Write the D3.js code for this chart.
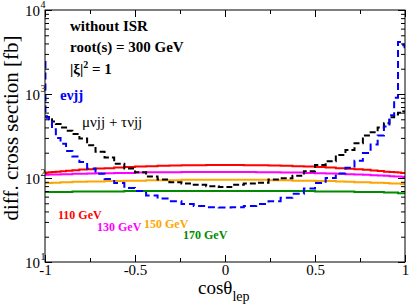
<!DOCTYPE html>
<html lang="en">
<head>
<meta charset="UTF-8">
<title>diff. cross section vs cos(theta_lep)</title>
<script src="https://d3js.org/d3.v7.min.js"></script>
<style>
  body { margin: 0; background: #fff; }
  svg { display: block; font-family: "Liberation Serif", "Times New Roman", serif; }
</style>
</head>
<body>
<svg width="409" height="305"></svg>
<script>
// histogram bins are 4 degrees wide in theta, plotted against cos(theta)
var thetaStepDeg = 4;

// 45 bins each, ordered from cos = -1 to cos = +1
var evjj = [2400, 600, 520, 480, 380, 300, 255, 210, 180, 155, 130, 112, 97, 87, 76,
            70, 62, 57, 53, 49, 46.5, 45, 44.5, 45, 46.5, 49, 53, 58, 65, 75,
            87, 100, 113, 132, 160, 198, 250, 320, 410, 560, 900, 4170, 4000, 3800, 3600];
var muTauVjj = [540, 540, 532, 500, 470, 440, 400, 365, 335, 295, 245, 205, 175, 148, 130,
                117, 104, 96, 89, 86, 83, 80, 78, 83, 86, 88, 96, 99, 106, 120,
                143, 158, 188, 215, 260, 320, 350, 400, 450, 530, 570, 600, 610, 620, 620];
var m110 = [116, 115, 116, 117, 118, 119, 120, 122, 124, 126, 127, 130, 131, 133, 135,
            137, 138, 140, 141, 142, 142, 143, 143, 143, 142, 142, 141, 140, 138, 137,
            135, 133, 131, 129, 127, 125, 123, 121, 119, 118, 117, 116, 115, 115, 115];
var m130 = [109, 109, 109, 110, 110, 110, 111, 111, 112, 112, 113, 114, 114, 115, 115,
            116, 117, 117, 117, 118, 118, 118, 118, 118, 118, 117, 117, 116, 116, 115,
            114, 113, 112, 111, 110, 109, 108, 107, 106, 105, 104.5, 104, 103.5, 103, 103];
var m150 = [87, 87, 87, 87, 88, 88, 89, 89, 90, 90, 91, 91, 92, 92, 93,
            93, 94, 94, 94, 95, 95, 95, 95, 95, 95, 95, 94, 94, 93, 93,
            92, 92, 91, 90, 89, 89, 88, 88, 87, 86, 86, 86, 85, 85, 85];
var m170 = [68, 68, 68, 68, 68, 68, 68, 68, 69, 69, 69, 69, 69, 69, 70,
            70, 70, 70, 70, 70, 70, 70, 70, 70, 70, 70, 70, 70, 70, 70,
            69, 69, 69, 69, 68, 68, 68, 68, 67, 67, 67, 66, 66, 66, 66];

var xTickValues = [-1, -0.5, 0, 0.5, 1];
var xTickLabels = ["-1", "-0.5", "0", "0.5", "1"];
var xMinorTicks = [-0.75, -0.25, 0.25, 0.75];
var yTickValues = [10, 100, 1000, 10000];
var yTickExponents = ["1", "2", "3", "4"];

var svg = d3.select("svg"),
    margin = {top: 10, right: 4, bottom: 43, left: 45},
    width = +svg.attr("width") - margin.left - margin.right,
    height = +svg.attr("height") - margin.top - margin.bottom,
    g = svg.append("g").attr("transform", "translate(" + margin.left + "," + margin.top + ")");

var x = d3.scaleLinear().domain([-1, 1]).range([0, width]);
var y = d3.scaleLog().domain([10, 10000]).range([height, 0]);

// bin edges in cos(theta), ascending
var edges = d3.range(180, -1, -thetaStepDeg).map(function(t) {
  return Math.cos(t * Math.PI / 180);
});
edges[0] = -1; edges[edges.length - 1] = 1;

function stepPoints(vals) {
  var pts = vals.map(function(v, i) { return {c: edges[i], v: v}; });
  pts.push({c: edges[vals.length], v: vals[vals.length - 1]});
  return pts;
}

var line = d3.line()
    .x(function(d) { return x(d.c); })
    .y(function(d) { return y(d.v); })
    .curve(d3.curveStepAfter);

svg.append("defs").append("clipPath").attr("id", "plotclip")
  .append("rect").attr("width", width).attr("height", height);

var series = [
  {vals: m170, color: "#008b00", dash: null},
  {vals: m150, color: "#ffa500", dash: null},
  {vals: m130, color: "#ff00ff", dash: null},
  {vals: m110, color: "#ff0000", dash: null},
  {vals: muTauVjj, color: "#000000", dash: "6,3"},
  {vals: evjj, color: "#0000ff", dash: "7,4"}
];

var plot = g.append("g").attr("clip-path", "url(#plotclip)");
series.forEach(function(s) {
  plot.append("path")
      .datum(stepPoints(s.vals))
      .attr("fill", "none")
      .attr("stroke", s.color)
      .attr("stroke-width", 2)
      .attr("stroke-dasharray", s.dash)
      .attr("d", line);
});

// axes: ticks point inward on all four sides
function styleAxis(sel) {
  sel.select(".domain").remove();
  sel.selectAll("line").attr("stroke", "#000");
  sel.selectAll("text").attr("font-family", "Liberation Serif, Times New Roman, serif")
     .attr("font-size", 15).attr("fill", "#000");
}

g.append("g")
    .attr("transform", "translate(0," + height + ")")
    .call(d3.axisBottom(x).tickValues(xTickValues).tickSize(-7).tickPadding(2)
      .tickFormat(function(d, i) { return xTickLabels[i]; }))
    .call(styleAxis);
g.append("g")
    .attr("transform", "translate(0," + height + ")")
    .call(d3.axisBottom(x).tickValues(xMinorTicks).tickSize(-4).tickFormat(""))
    .call(styleAxis);
g.append("g")
    .call(d3.axisTop(x).tickValues(xTickValues).tickSize(-7).tickFormat(""))
    .call(styleAxis);
g.append("g")
    .call(d3.axisTop(x).tickValues(xMinorTicks).tickSize(-4).tickFormat(""))
    .call(styleAxis);

var yMinor = [];
[10, 100, 1000].forEach(function(d) {
  for (var k = 2; k <= 9; k++) yMinor.push(d * k);
});

g.append("g")
    .call(d3.axisLeft(y).tickValues(yTickValues).tickSize(-7).tickFormat(""))
    .call(styleAxis);
g.append("g")
    .call(d3.axisLeft(y).tickValues(yMinor).tickSize(-4).tickFormat(""))
    .call(styleAxis);
g.append("g")
    .attr("transform", "translate(" + width + ",0)")
    .call(d3.axisRight(y).tickValues(yTickValues).tickSize(-7).tickFormat(""))
    .call(styleAxis);
g.append("g")
    .attr("transform", "translate(" + width + ",0)")
    .call(d3.axisRight(y).tickValues(yMinor).tickSize(-4).tickFormat(""))
    .call(styleAxis);

// y tick labels as 10^n
yTickValues.forEach(function(d, i) {
  g.append("text")
      .attr("x", -5).attr("y", y(d) + 6)
      .attr("text-anchor", "end")
      .attr("font-size", 15)
      .text("10");
  g.append("text")
      .attr("x", -4.5).attr("y", y(d) - 2)
      .attr("font-size", 10)
      .text(yTickExponents[i]);
});

// frame
g.append("rect")
    .attr("width", width).attr("height", height)
    .attr("fill", "none").attr("stroke", "#000").attr("stroke-width", 1);

// axis titles
svg.append("text")
    .attr("transform", "translate(18," + (margin.top + 118) + ") rotate(-90)")
    .attr("text-anchor", "middle")
    .attr("font-size", 21)
    .text("diff. cross section [fb]");

var xt = svg.append("text")
    .attr("x", 198).attr("y", 294)
    .attr("font-size", 19);
xt.append("tspan").text("cos\u03b8");
xt.append("tspan").attr("font-size", 14).attr("dy", 7).text("lep");

// annotations
var notes = g.append("g").attr("font-weight", "bold").attr("font-size", 15);
notes.append("text").attr("x", 25).attr("y", 21).text("without ISR");
notes.append("text").attr("x", 25).attr("y", 42).text("root(s) = 300 GeV");
var xi = notes.append("text").attr("x", 25).attr("y", 64);
xi.append("tspan").text("|\u03be|");
xi.append("tspan").attr("font-size", 10).attr("dy", -6).text("2");
xi.append("tspan").attr("dy", 6).text(" = 1");

g.append("text").attr("x", 15).attr("y", 90)
    .attr("font-weight", "bold").attr("font-size", 15).attr("fill", "#0000ff")
    .text("e\u03bdjj");
g.append("text").attr("x", 37).attr("y", 117)
    .attr("font-size", 15).attr("fill", "#000")
    .text("\u03bc\u03bdjj + \u03c4\u03bdjj");

var massLabels = [
  {t: "110 GeV", color: "#ff0000", x: 13, y: 209},
  {t: "130 GeV", color: "#ff00ff", x: 52, y: 221},
  {t: "150 GeV", color: "#ffa500", x: 99, y: 218},
  {t: "170 GeV", color: "#008b00", x: 138, y: 229}
];
massLabels.forEach(function(m) {
  g.append("text").attr("x", m.x).attr("y", m.y)
      .attr("font-weight", "bold").attr("font-size", 12)
      .attr("fill", m.color).text(m.t);
});
</script>
</body>
</html>
